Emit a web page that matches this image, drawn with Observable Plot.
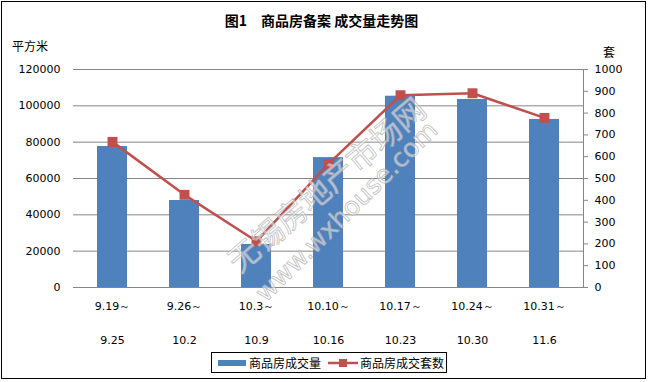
<!DOCTYPE html>
<html><head><meta charset="utf-8">
<script src="https://cdn.jsdelivr.net/npm/d3@7"></script>
<script src="https://cdn.jsdelivr.net/npm/@observablehq/plot@0.6"></script>
<style>
html,body{margin:0;padding:0;background:#fff;}
#wrap{position:relative;width:650px;height:382px;overflow:hidden;font-family:"DejaVu Sans",sans-serif;}
#frame{position:absolute;left:1px;top:1px;width:643px;height:376px;border:1px solid #000;}
#title{position:absolute;left:0;width:643px;top:10px;text-align:center;font:bold 14px "Noto Sans CJK SC";}
.unit{position:absolute;font:12px "Noto Sans CJK SC";}
#chart{position:absolute;left:0;top:0;}
#legend{position:absolute;left:211px;top:352px;width:234px;height:19px;border:1px solid #000;background:#fff;font:12px "Noto Sans CJK SC";display:flex;align-items:center;}
.wm{position:absolute;color:rgba(255,255,255,0.55);-webkit-text-stroke:0.9px rgba(175,175,175,0.75);white-space:nowrap;transform-origin:0 0;line-height:1;}
</style></head>
<body><div id="wrap">
<div id="frame"></div>
<div id="title">图1　商品房备案 成交量走势图</div>
<div class="unit" style="left:12px;top:37px;">平方米</div>
<div class="unit" style="left:603px;top:43px;">套</div>
<div id="chart"></div>
<div class="wm" style="left:221px;top:252px;transform:rotate(-40.5deg);font-size:31px;font-family:'Noto Sans CJK SC';">无锡房地产市场网</div>
<div class="wm" style="left:251px;top:288px;transform:rotate(-44.6deg);font-size:25.5px;font-family:'DejaVu Sans';">www.wxhouse.com</div>
<div id="legend">
  <span style="display:inline-block;width:28px;height:6px;background:#4F81BD;margin-left:6px;"></span>
  <span style="margin-left:3px;">商品房成交量</span>
  <svg width="30" height="12" style="margin-left:7px;"><line x1="0" y1="6" x2="30" y2="6" stroke="#C0504D" stroke-width="2.5"/><rect x="11" y="2" width="8" height="8" fill="#C0504D"/></svg>
  <span style="margin-left:2px;">商品房成交套数</span>
</div>
</div>
<script>
const periodStart = ["9.19～","9.26～","10.3～","10.10～","10.17～","10.24～","10.31～"];
const periodEnd = ["9.25","10.2","10.9","10.16","10.23","10.30","11.6"];
const area = [77600, 47900, 23700, 71500, 105300, 103500, 92500];
const units = [668, 425, 212, 567, 882, 891, 778];
const leftTicks = [0,20000,40000,60000,80000,100000,120000];
const rightTicks = [0,100,200,300,400,500,600,700,800,900,1000];

const ratio = 120000/1000;
const data = periodStart.map((s,i)=>({k:i, area:area[i], units:units[i], uy:units[i]*ratio}));

const plot = Plot.plot({
  width:650, height:382,
  marginTop:69, marginBottom:95, marginLeft:73, marginRight:67,
  style:{fontFamily:"DejaVu Sans", fontSize:"11px", color:"#000", background:"transparent"},
  x:{type:"band", domain:d3.range(7), paddingInner:0.59, paddingOuter:0.295, axis:null},
  y:{domain:[0,120000], axis:null},
  marks:[
    Plot.ruleY(leftTicks, {stroke:"#868686", strokeWidth:1}),
    Plot.frame({anchor:"right", stroke:"#868686"}),
    Plot.barY(data, {x:"k", y:"area", fill:"#4F81BD"}),
    Plot.line(data, {x:"k", y:"uy", stroke:"#C0504D", strokeWidth:2.5}),
    Plot.dot(data, {x:"k", y:"uy", symbol:"square", r:5.6, fill:"#C0504D"}),
    Plot.axisY({anchor:"left", ticks:leftTicks, tickSize:0, tickPadding:13, tickFormat:d=>String(d), label:null}),
    Plot.axisY({anchor:"right", ticks:rightTicks.map(d=>d*ratio), tickSize:4, tickPadding:7, stroke:"#868686", tickFormat:d=>String(Math.round(d/ratio)), label:null}),
    Plot.axisX({ticks:d3.range(7), tickSize:0, tickPadding:15, tickFormat:i=>periodStart[i], label:null}),
    Plot.axisX({ticks:d3.range(7), tickSize:0, tickPadding:49, tickFormat:i=>periodEnd[i], label:null})
  ]
});
document.getElementById("chart").appendChild(plot);
</script>
</body></html>
